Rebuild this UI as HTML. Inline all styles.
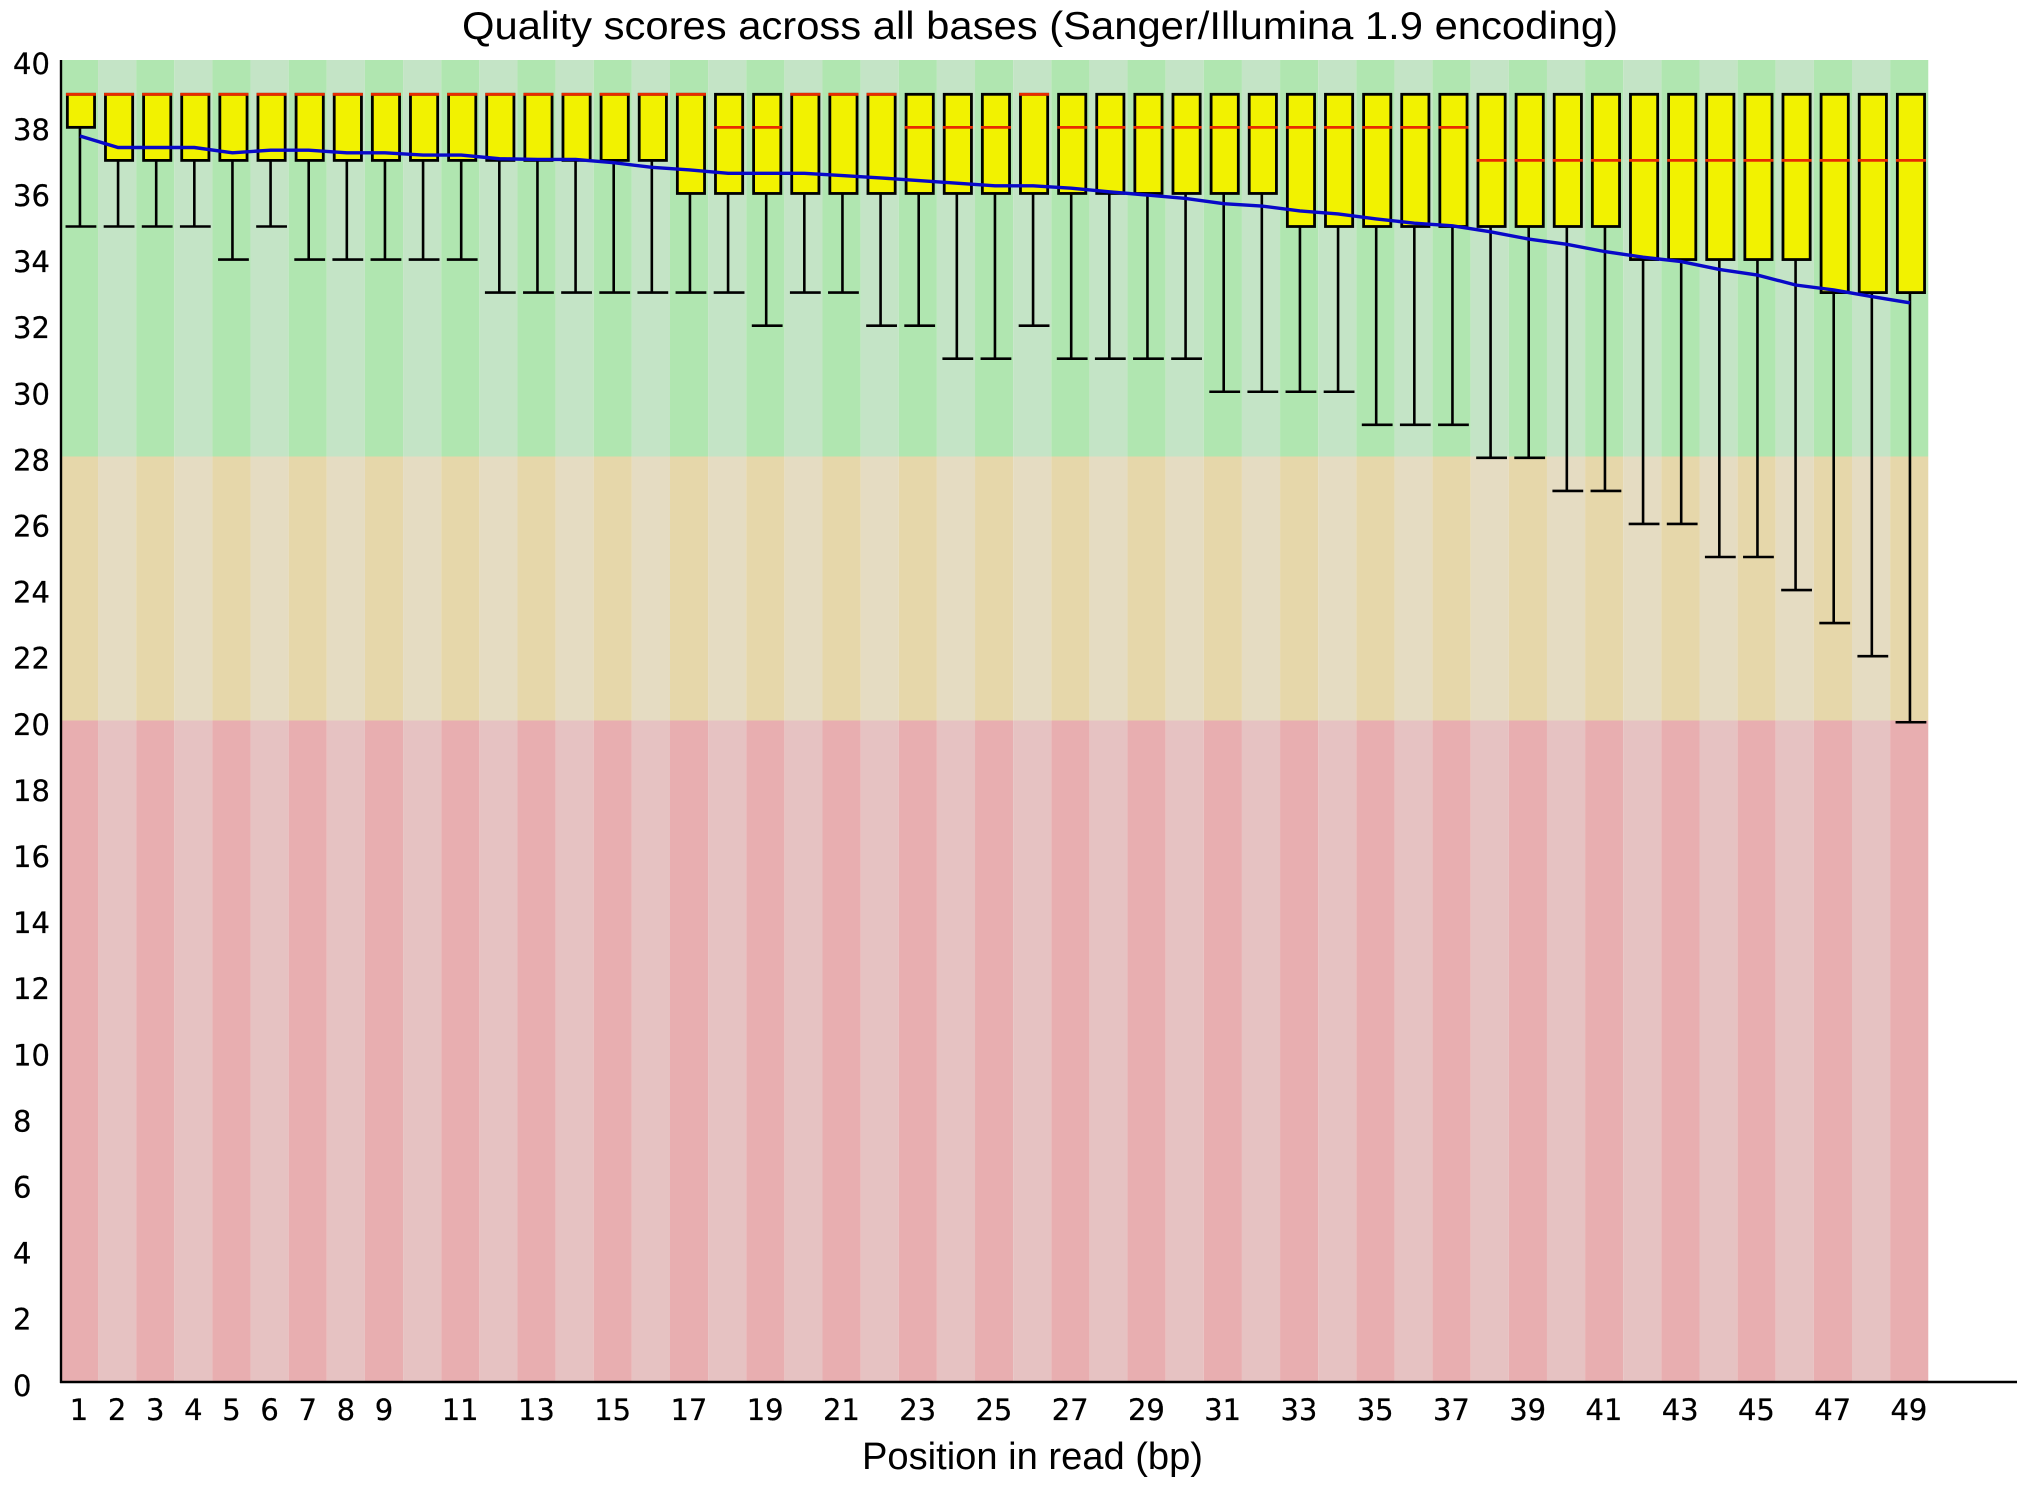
<!DOCTYPE html>
<html lang="en">
<head>
<meta charset="utf-8">
<title>Quality scores across all bases</title>
<style>
html,body{margin:0;padding:0;background:#fff;width:2031px;height:1489px;overflow:hidden}
svg{display:block}
.tick{font-family:"DejaVu Sans",sans-serif;font-size:29px;fill:#000;stroke:#000;stroke-width:.25px}
.ttl{font-family:"Liberation Sans",sans-serif;fill:#000}
</style>
</head>
<body>
<svg id="chart" xmlns="http://www.w3.org/2000/svg" width="2031" height="1489" viewBox="0 0 2031 1489">
  <g id="bands"></g>
  <g id="marks" style="filter:blur(.3px)"></g>
  <polyline id="mean" fill="none" stroke="#0808c8" stroke-width="3.4" style="filter:blur(.3px)"></polyline>
  <line x1="61" y1="60" x2="61" y2="1383" stroke="#000" stroke-width="2.4"></line>
  <line x1="60" y1="1382" x2="2017" y2="1382" stroke="#000" stroke-width="2.4"></line>
  <g id="yticks"></g>
  <g id="xticks"></g>
  <text class="ttl" x="462" y="39" font-size="39" textLength="1156" lengthAdjust="spacingAndGlyphs">Quality scores across all bases (Sanger/Illumina 1.9 encoding)</text>
  <text class="ttl" x="862" y="1469" font-size="38" textLength="341" lengthAdjust="spacingAndGlyphs">Position in read (bp)</text>
</svg>
<script>
const positions = [1,2,3,4,5,6,7,8,9,10,11,12,13,14,15,16,17,18,19,20,21,22,23,24,25,26,27,28,29,30,31,32,33,34,35,36,37,38,39,40,41,42,43,44,45,46,47,48,49];
const q3Values = [39,39,39,39,39,39,39,39,39,39,39,39,39,39,39,39,39,39,39,39,39,39,39,39,39,39,39,39,39,39,39,39,39,39,39,39,39,39,39,39,39,39,39,39,39,39,39,39,39];
const q1Values = [38,37,37,37,37,37,37,37,37,37,37,37,37,37,37,37,36,36,36,36,36,36,36,36,36,36,36,36,36,36,36,36,35,35,35,35,35,35,35,35,35,34,34,34,34,34,33,33,33];
const medianValues = [39,39,39,39,39,39,39,39,39,39,39,39,39,39,39,39,39,38,38,39,39,39,38,38,38,39,38,38,38,38,38,38,38,38,38,38,38,37,37,37,37,37,37,37,37,37,37,37,37];
const lowerWhiskerValues = [35,35,35,35,34,35,34,34,34,34,34,33,33,33,33,33,33,33,32,33,33,32,32,31,31,32,31,31,31,31,30,30,30,30,29,29,29,28,28,27,27,26,26,25,25,24,23,22,20];
const meanValues = [37.74,37.39,37.39,37.39,37.23,37.31,37.31,37.23,37.23,37.16,37.16,37.05,37.03,37.03,36.93,36.79,36.71,36.61,36.61,36.61,36.54,36.47,36.39,36.31,36.23,36.23,36.16,36.05,35.95,35.85,35.69,35.62,35.47,35.38,35.23,35.10,35.02,34.84,34.62,34.46,34.24,34.07,33.94,33.70,33.53,33.23,33.08,32.88,32.69];
const yTickLabels = [0,2,4,6,8,10,12,14,16,18,20,22,24,26,28,30,32,34,36,38,40];
const xTickLabels = [1,2,3,4,5,6,7,8,9,11,13,15,17,19,21,23,25,27,29,31,33,35,37,39,41,43,45,47,49];
const qualityZones = [28,20,0];

const NS = 'http://www.w3.org/2000/svg';
function yScale(v){ return 94.3 + (39 - v) * 33.05; }
function xCenter(p){ return 80.95 + 38.125 * (p - 1); }
function make(tag, parent, attrs){
  const el = document.createElementNS(NS, tag);
  for (const k in attrs) el.setAttribute(k, attrs[k]);
  parent.appendChild(el);
  return el;
}

/* background bands */
const bandsG = document.getElementById('bands');
const zoneColors = [['#b0e6b0','#c4e4c6'],['#e6d7aa','#e5dcc2'],['#e8aeb0','#e6c2c2']];
const zoneTops = [60, 456.5, 720.5];
const zoneBottoms = [456.5, 720.5, 1381];
positions.forEach(function(p, i){
  const x0 = Math.max(62, 59.9 + 38.13 * i);
  const x1 = 59.9 + 38.13 * (i + 1);
  qualityZones.forEach(function(z, k){
    const r = make('rect', bandsG, {x:x0, y:zoneTops[k], width:x1 - x0, height:zoneBottoms[k] - zoneTops[k], fill:zoneColors[k][i % 2]});
    
    
  });
});

/* box plots */
const marksG = document.getElementById('marks');
positions.forEach(function(p, i){
  const cx = xCenter(p);
  const wx = cx - 1;
  const yQ3 = yScale(q3Values[i]);
  const yQ1 = yScale(q1Values[i]);
  const yLow = yScale(lowerWhiskerValues[i]);
  const yMed = yScale(medianValues[i]);
  const w = make('line', marksG, {x1:wx, y1:yQ1, x2:wx, y2:yLow, stroke:'#000', 'stroke-width':2.6});
  
  
  const cap = make('line', marksG, {x1:cx - 15.4, y1:yLow, x2:cx + 15.4, y2:yLow, stroke:'#000', 'stroke-width':2.6});
  
  
  const box = make('rect', marksG, {x:cx - 13.6, y:yQ3, width:27.2, height:yQ1 - yQ3, fill:'#f2f200', stroke:'#000', 'stroke-width':2.8});
  
  
  const med = make('line', marksG, {x1:cx - 15, y1:yMed, x2:cx + 15, y2:yMed, stroke:'#e82c00', 'stroke-width':2.8});
  
  
});

/* mean line */
document.getElementById('mean').setAttribute('points', positions.map(function(p, i){
  return (xCenter(p) - 1) + ',' + yScale(meanValues[i]);
}).join(' '));

/* y ticks */
const yG = document.getElementById('yticks');
yTickLabels.forEach(function(v){
  const t = make('text', yG, {class:'tick', x:13, y:yScale(v) + 12.5});
  
  
  t.textContent = v;
});

/* x ticks */
const xG = document.getElementById('xticks');
xTickLabels.forEach(function(v){
  const t = make('text', xG, {class:'tick', x:xCenter(v) - 2, y:1420, 'text-anchor':'middle'});
  
  
  t.textContent = v;
});
</script>
</body>
</html>
